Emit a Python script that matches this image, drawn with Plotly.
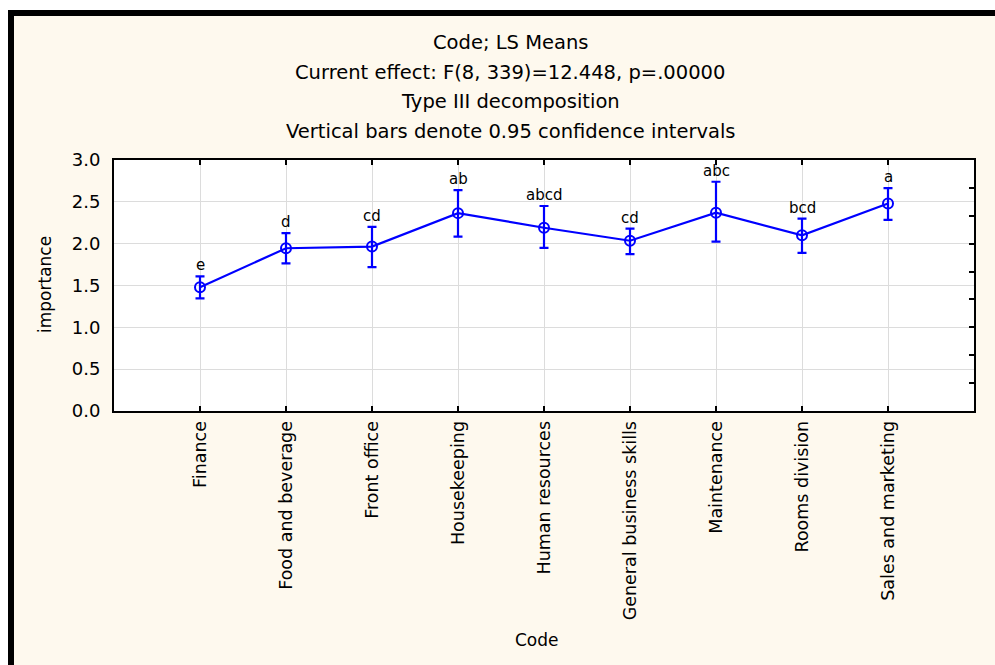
import plotly.graph_objects as go

categories = ["Finance", "Food and beverage", "Front office", "Housekeeping",
              "Human resources", "General business skills", "Maintenance",
              "Rooms division", "Sales and marketing"]
means = [1.48, 1.945, 1.965, 2.365, 2.19, 2.035, 2.37, 2.10, 2.48]
upper = [1.61, 2.125, 2.20, 2.64, 2.45, 2.18, 2.74, 2.30, 2.665]
lower = [1.345, 1.765, 1.72, 2.085, 1.95, 1.875, 2.025, 1.89, 2.285]
letters = ["e", "d", "cd", "ab", "abcd", "cd", "abc", "bcd", "a"]
title_lines = ["Code; LS Means",
               "Current effect: F(8, 339)=12.448, p=.00000",
               "Type III decomposition",
               "Vertical bars denote 0.95 confidence intervals"]
y_ticks = [0, 0.5, 1, 1.5, 2, 2.5, 3]
y_ticktext = ["0.0", "0.5", "1.0", "1.5", "2.0", "2.5", "3.0"]

W, H = 995, 665
L, R, T, B = 114, 21, 160, 254
PW, PH = W - L - R, H - T - B
FONT = "DejaVu Sans"
BLUE = "#0000FF"
CREAM = "#FEF9EE"


def px(x):
    return (x - L) / PW


def py(y):
    return (H - B - y) / PH


idx = list(range(len(categories)))
fig = go.Figure()
fig.add_trace(go.Scatter(
    x=idx, y=means, mode="lines+markers",
    line=dict(color=BLUE, width=2.2),
    marker=dict(symbol="circle-open", size=10, color=BLUE, line=dict(width=2)),
    error_y=dict(type="data", symmetric=False,
                 array=[u - m for u, m in zip(upper, means)],
                 arrayminus=[m - l for m, l in zip(means, lower)],
                 color=BLUE, thickness=2.2, width=4.5),
    showlegend=False, hoverinfo="skip"))

# invisible trace for right axis ticks
fig.add_trace(go.Scatter(x=[0], y=[0], yaxis="y2", mode="markers",
                         marker=dict(opacity=0), showlegend=False, hoverinfo="skip"))

annotations = []
for i, (u, t) in enumerate(zip(upper, letters)):
    annotations.append(dict(x=i, y=u, text=t, showarrow=False, yanchor="bottom",
                            yshift=0, font=dict(family=FONT, size=15, color="black")))
for line, ypx in zip(title_lines, [42, 72, 101, 131]):
    annotations.append(dict(xref="paper", yref="paper", x=px(510), y=py(ypx),
                            text=line, showarrow=False, xanchor="center", yanchor="middle",
                            font=dict(family=FONT, size=19.5, color="black")))
annotations.append(dict(xref="paper", yref="paper", x=px(537), y=py(640), text="Code",
                        showarrow=False, xanchor="center", yanchor="middle",
                        font=dict(family=FONT, size=17, color="black")))
annotations.append(dict(xref="paper", yref="paper", x=px(45), y=py(285), text="importance",
                        showarrow=False, xanchor="center", yanchor="middle", textangle=-90,
                        font=dict(family=FONT, size=17, color="black")))

shapes = [
    dict(type="rect", xref="paper", yref="paper", x0=px(0), x1=px(8), y0=py(0), y1=py(H),
         fillcolor="white", line_width=0),
    dict(type="rect", xref="paper", yref="paper", x0=px(0), x1=px(W), y0=py(0), y1=py(10),
         fillcolor="white", line_width=0),
    dict(type="rect", xref="paper", yref="paper", x0=px(8), x1=px(14), y0=py(10), y1=py(H),
         fillcolor="black", line_width=0),
    dict(type="rect", xref="paper", yref="paper", x0=px(8), x1=px(W), y0=py(10), y1=py(16),
         fillcolor="black", line_width=0),
]

fig.update_layout(
    width=W, height=H,
    margin=dict(l=L, r=R, t=T, b=B, pad=0),
    paper_bgcolor=CREAM, plot_bgcolor="white",
    font=dict(family=FONT, size=15, color="black"),
    xaxis=dict(range=[-1, 9], tickmode="array", tickvals=idx, ticktext=categories,
               tickangle=-90, ticks="inside", ticklen=5, tickwidth=2, tickcolor="black",
               showline=True, linecolor="black", linewidth=2, mirror="ticks",
               showgrid=True, gridcolor="#DCDCDC", gridwidth=1, zeroline=False,
               tickfont=dict(family=FONT, size=17.5), ticklabelstandoff=1),
    yaxis=dict(range=[0, 3], tickmode="array", tickvals=y_ticks, ticktext=y_ticktext,
               ticks="", showline=True, linecolor="black", linewidth=2, mirror=True,
               showgrid=True, gridcolor="#DCDCDC", gridwidth=1, zeroline=False,
               tickfont=dict(family=FONT, size=18), ticklabelstandoff=8),
    yaxis2=dict(overlaying="y", side="right", range=[0, 9], dtick=1, tick0=0,
                ticks="inside", ticklen=5, tickwidth=2, tickcolor="black",
                showticklabels=False, showgrid=False, showline=False, zeroline=False),
    annotations=annotations, shapes=shapes,
)

fig.write_html("out.html")
